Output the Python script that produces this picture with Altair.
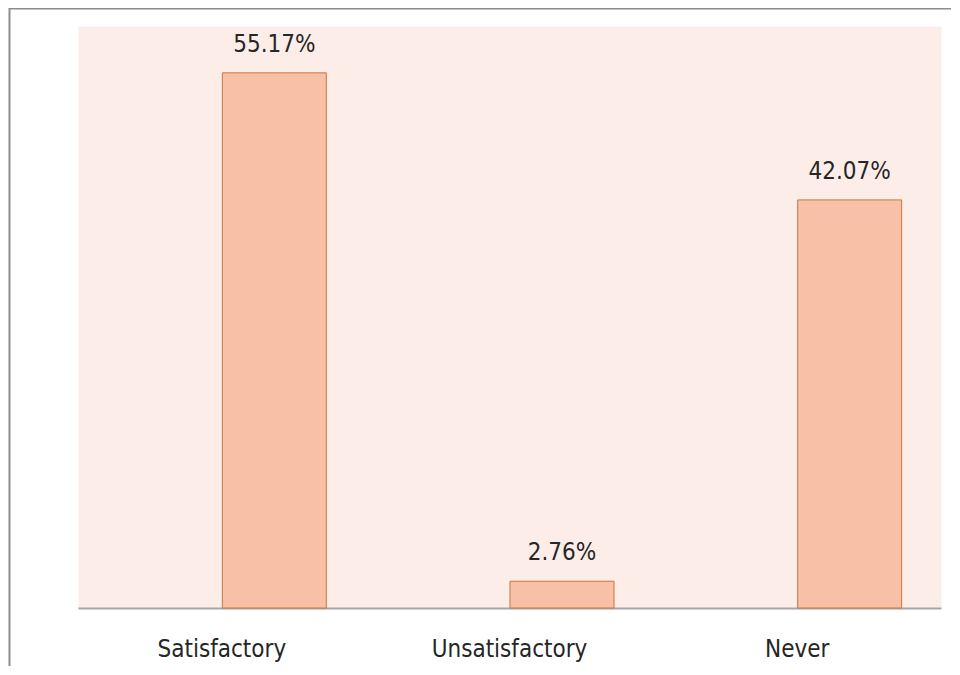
import altair as alt
import pandas as pd

categories = ["Satisfactory", "Unsatisfactory", "Never"]
values = [55.17, 2.76, 42.07]
value_labels = ["55.17%", "2.76%", "42.07%"]

df = pd.DataFrame({"category": categories, "value": values, "label": value_labels})

FONT = "DejaVu Sans Condensed, Liberation Sans Narrow, DejaVu Sans"
TEXT_COLOR = "#262626"

x = alt.X(
    "category:N",
    sort=categories,
    scale=alt.Scale(paddingInner=0, paddingOuter=0),
    axis=alt.Axis(
        title=None,
        labelAngle=0,
        ticks=False,
        tickSize=0,
        domainColor="#A6A6A6",
        domainWidth=2,
        labelFont=FONT,
        labelFontSize=24,
        labelColor=TEXT_COLOR,
        labelBaseline="alphabetic",
        labelPadding=48,
        grid=False,
    ),
)
y = alt.Y("value:Q", scale=alt.Scale(domain=[0, 60], nice=False, zero=True), axis=None)

frame = alt.Chart(pd.DataFrame({"f": [1]})).mark_rect(
    filled=False, stroke="#8C8C8C", strokeWidth=2
).encode(
    x=alt.value(-68.5), x2=alt.value(3000), y=alt.value(-17.5), y2=alt.value(3000)
)

bars = alt.Chart(df).mark_bar(
    width=104, xOffset=52.5, fill="#F8C0A6", stroke="#C8763E", strokeWidth=1
).encode(x=x, y=y)

text = alt.Chart(df).mark_text(
    dy=-21, baseline="alphabetic", xOffset=52.5, fontSize=24, font=FONT, color=TEXT_COLOR
).encode(x=x, y=y, text="label:N")

chart = alt.layer(frame, bars, text).properties(
    width=863,
    height=582,
    autosize=alt.AutoSizeParams(type="none"),
    padding={"left": 70, "top": 18, "right": 10, "bottom": 58},
    background="white",
).configure_view(fill="#FCEDE8", stroke="transparent")

chart.save("out.html", embed_options={"renderer": "svg", "actions": False})
